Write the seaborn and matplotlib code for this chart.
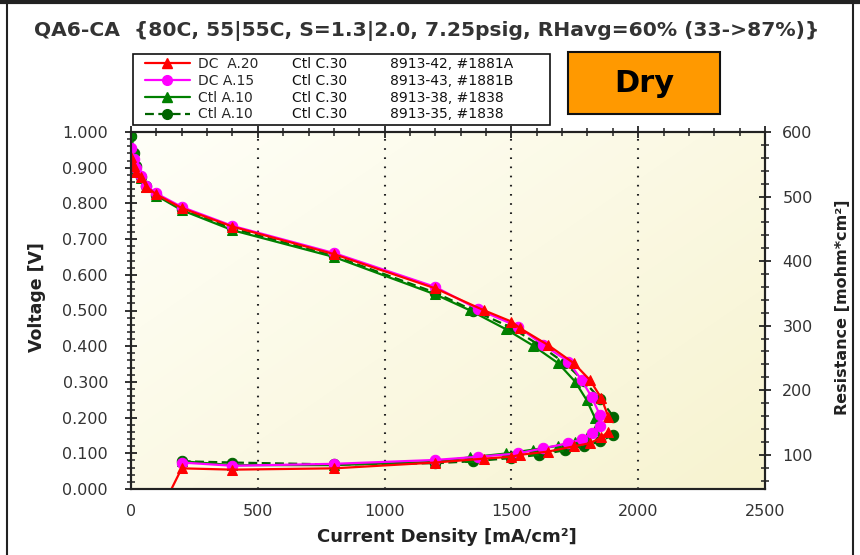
import numpy as np
import pandas as pd
import matplotlib
matplotlib.use("Agg")
import matplotlib.pyplot as plt
from matplotlib.lines import Line2D
from matplotlib.patches import Rectangle
from matplotlib.ticker import MultipleLocator, FormatStrFormatter
import seaborn as sns

# ---------------- data ----------------
title = "QA6-CA  {80C, 55|55C, S=1.3|2.0, 7.25psig, RHavg=60% (33->87%)}"
legend_col1 = ["DC  A.20", "DC A.15", "Ctl A.10", "Ctl A.10"]
legend_col2 = ["Ctl C.30", "Ctl C.30", "Ctl C.30", "Ctl C.30"]
legend_col3 = ["8913-42, #1881A", "8913-43, #1881B", "8913-38, #1838", "8913-35, #1838"]

# DC A.20 (red)
red_i = [0, 10, 20, 40, 60, 100, 200, 400, 800, 1200, 1390, 1500, 1535, 1645, 1745, 1810, 1855, 1882]
red_v = [0.930, 0.905, 0.888, 0.873, 0.847, 0.825, 0.787, 0.735, 0.658, 0.562, 0.501, 0.469, 0.450, 0.403, 0.353, 0.305, 0.254, 0.203]
red_ri = [100, 200, 400, 800, 1200, 1390, 1500, 1535, 1645, 1745, 1810, 1855, 1882]
red_r = [0, 79, 77, 79, 88, 94, 97, 100, 105, 113, 118, 127, 136]

# DC A.15 (magenta)
mag_i = [0, 10, 20, 40, 60, 100, 200, 400, 800, 1200, 1370, 1525, 1625, 1725, 1777, 1817, 1849]
mag_v = [0.955, 0.925, 0.900, 0.876, 0.850, 0.828, 0.790, 0.737, 0.661, 0.566, 0.503, 0.455, 0.404, 0.357, 0.305, 0.257, 0.207]
mag_ri = [200, 400, 800, 1200, 1370, 1525, 1625, 1725, 1777, 1817, 1849]
mag_r = [88, 83, 86, 92, 97, 102, 110, 118, 124, 134, 144]

# Ctl A.10 8913-38 (green, solid)
grn_i = [0, 10, 20, 40, 60, 100, 200, 400, 800, 1200, 1335, 1480, 1587, 1685, 1751, 1797, 1830]
grn_v = [0.997, 0.950, 0.900, 0.870, 0.845, 0.822, 0.781, 0.725, 0.650, 0.545, 0.501, 0.447, 0.401, 0.352, 0.301, 0.249, 0.198]
grn_ri = [200, 400, 800, 1200, 1335, 1480, 1587, 1685, 1751, 1797, 1830]
grn_r = [90, 84, 84, 89, 96, 102, 108, 114, 120, 128, 138]

# Ctl A.10 8913-35 (dark green, dashed)
dgr_i = [0, 10, 20, 40, 60, 100, 200, 400, 800, 1200, 1350, 1500, 1610, 1710, 1785, 1850, 1902]
dgr_v = [0.990, 0.940, 0.905, 0.875, 0.848, 0.823, 0.784, 0.730, 0.653, 0.550, 0.500, 0.452, 0.403, 0.353, 0.303, 0.252, 0.203]
dgr_ri = [200, 400, 800, 1200, 1350, 1500, 1610, 1710, 1785, 1850, 1902]
dgr_r = [90, 88, 85, 87, 90, 95, 100, 107, 113, 121, 131]

# ---------------- figure ----------------
sns.set_style("white")
plt.rcParams['font.family'] = ['DejaVu Sans']

W, H = 860, 555
fig = plt.figure(figsize=(W / 100, H / 100), dpi=100)
fig.patch.set_facecolor("white")

def fx(px):
    return px / W

def fy(py):
    return 1 - py / H

ax = fig.add_axes([fx(131), fy(489), fx(765) - fx(131), fy(132) - fy(489)])
ax2 = ax.twinx()

# gradient background
grad_x = np.linspace(0, 1, 64)
grad_y = np.linspace(0, 1, 64)
gx, gy = np.meshgrid(grad_x, grad_y)
t = np.clip(0.55 * gx + 0.45 * gy, 0, 1)
c0 = np.array([255, 255, 248]) / 255
c1 = np.array([247, 243, 208]) / 255
img = c0[None, None, :] * (1 - t[..., None]) + c1[None, None, :] * t[..., None]
ax.imshow(img, extent=[0, 1, 0, 1], transform=ax.transAxes, origin="upper",
          aspect="auto", zorder=0, interpolation="bilinear")

series = [
    (dgr_i, dgr_v, dgr_ri, dgr_r, "#006400", "o", (4, 2)),
    (grn_i, grn_v, grn_ri, grn_r, "#008000", "^", ""),
    (mag_i, mag_v, mag_ri, mag_r, "#FF00FF", "o", ""),
    (red_i, red_v, red_ri, red_r, "#FF0000", "^", ""),
]

for (ci, cv, ri, rr, col, mk, ls) in series:
    df1 = pd.DataFrame({"I": ci, "V": cv})
    df2 = pd.DataFrame({"I": ri, "R": rr})
    kw = dict(color=col, marker=mk, markersize=7.5, markeredgecolor=col,
              linewidth=1.6, sort=False, estimator=None)
    sns.lineplot(data=df1, x="I", y="V", ax=ax, **kw)
    sns.lineplot(data=df2, x="I", y="R", ax=ax2, **kw)
    if ls:
        ax.lines[-1].set_dashes(ls)
        ax2.lines[-1].set_dashes(ls)

# vertical dotted grid
for xv in [500, 1000, 1500, 2000]:
    ax.axvline(xv, color="#222222", linestyle=(0, (0.8, 3.6)), linewidth=1.5, zorder=1)

ax.set_xlim(0, 2500)
ax.set_ylim(0, 1.0)
ax2.set_ylim(47, 600)

ax.xaxis.set_major_locator(MultipleLocator(500))
ax.xaxis.set_minor_locator(MultipleLocator(100))
ax.yaxis.set_major_locator(MultipleLocator(0.1))
ax.yaxis.set_minor_locator(MultipleLocator(0.02))
ax.yaxis.set_major_formatter(FormatStrFormatter("%.3f"))
ax2.yaxis.set_major_locator(MultipleLocator(100))
ax2.yaxis.set_minor_locator(MultipleLocator(20))

tick_col = "#333333"
ax.tick_params(axis="both", which="major", direction="inout", length=9, width=1.3,
               color="#222222", labelsize=11.5, labelcolor=tick_col)
ax.tick_params(axis="both", which="minor", direction="inout", length=6, width=1.1, color="#222222")
ax.tick_params(axis="x", which="both", top=True)
ax.tick_params(axis="x", which="major", pad=6)
ax.tick_params(axis="y", which="major", pad=12)
ax2.tick_params(axis="y", which="major", direction="inout", length=9, width=1.3,
                color="#222222", labelsize=11.5, labelcolor=tick_col, pad=8)
ax2.tick_params(axis="y", which="minor", direction="inout", length=6, width=1.1, color="#222222")

for a in (ax, ax2):
    for s in a.spines.values():
        s.set_color("#222222")
        s.set_linewidth(1.5)
        s.set_visible(True)

lab_col = "#222222"
ax.set_xlabel("Current Density [mA/cm²]", fontsize=13, fontweight="bold", color=lab_col)
ax.xaxis.set_label_coords((447 - 131) / 634, (489 - 537) / 357)
ax.xaxis.label.set_va("center")
ax.set_ylabel("Voltage [V]", fontsize=12.5, fontweight="bold", color=lab_col)
ax.yaxis.set_label_coords((37 - 131) / 634, (489 - 297) / 357)
ax.yaxis.label.set_va("center")
ax2.set_ylabel("Resistance [mohm*cm²]", fontsize=11.5, fontweight="bold", color=lab_col)
ax2.yaxis.set_label_coords((843 - 131) / 634, (489 - 307) / 357)
ax2.yaxis.label.set_va("center")

fig.text(fx(427), fy(31), title, ha="center", va="center", fontsize=14.6,
         fontweight="bold", color="#333333")

# legend
handles = [
    Line2D([], [], color="#FF0000", marker="^", markersize=7, linewidth=1.6),
    Line2D([], [], color="#FF00FF", marker="o", markersize=7, linewidth=1.6),
    Line2D([], [], color="#008000", marker="^", markersize=7, linewidth=1.6),
    Line2D([], [], color="#006400", marker="o", markersize=7, linewidth=1.6, dashes=(4, 2)),
]
fig.add_artist(Rectangle((fx(133), fy(125)), fx(550) - fx(133), fy(54) - fy(125),
                         transform=fig.transFigure, facecolor="white", edgecolor="#111111",
                         linewidth=1.2, zorder=3))
leg = fig.legend(handles, legend_col1, loc="upper left", bbox_to_anchor=(fx(134), fy(46)),
                 frameon=False, fontsize=10, handlelength=3.2, handletextpad=0.6,
                 labelspacing=0.2, borderpad=0.3)
leg.set_zorder(4)
fig.canvas.draw()
for txt, c2, c3 in zip(leg.get_texts(), legend_col2, legend_col3):
    bb = txt.get_window_extent()
    yc = (bb.y0 + bb.y1) / 2 / fig.bbox.height
    fig.text(fx(292), yc, c2, ha="left", va="center", fontsize=10, color="#111111", zorder=5)
    fig.text(fx(390), yc, c3, ha="left", va="center", fontsize=10, color="#111111", zorder=5)

# Dry box
fig.add_artist(Rectangle((fx(568), fy(114)), fx(720) - fx(568), fy(52) - fy(114),
                         transform=fig.transFigure, facecolor="#FF9900", edgecolor="#111111",
                         linewidth=1.5, zorder=3))
fig.text(fx(644), fy(84), "Dry", ha="center", va="center", fontsize=22,
         fontweight="bold", color="black", zorder=4)

# screenshot frame
fig.add_artist(Line2D([0, 1], [fy(2), fy(2)], transform=fig.transFigure, color="#222222", linewidth=3))
fig.add_artist(Line2D([fx(7), fx(7)], [0, fy(2)], transform=fig.transFigure, color="#222222", linewidth=1.5))
fig.add_artist(Line2D([fx(853), fx(853)], [0, fy(2)], transform=fig.transFigure, color="#222222", linewidth=1.5))

fig.savefig("out.png", dpi=100)
